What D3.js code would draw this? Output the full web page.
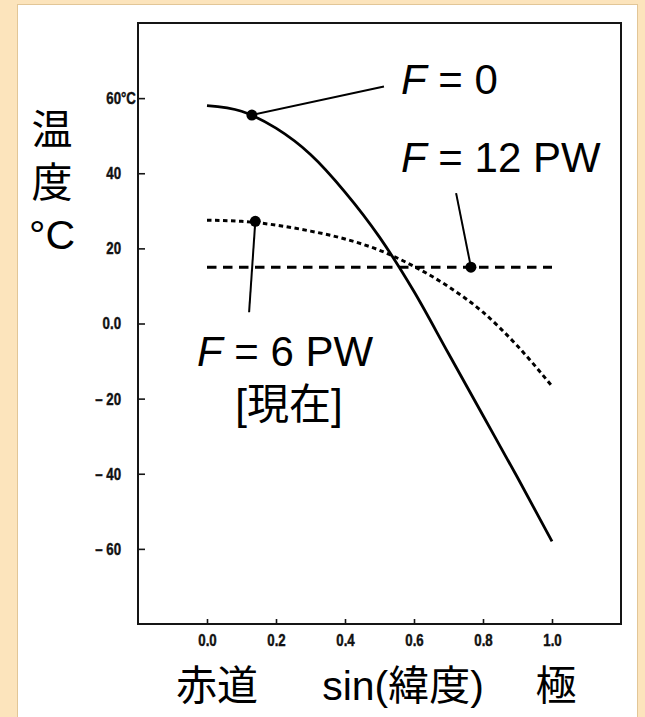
<!DOCTYPE html>
<html>
<head>
<meta charset="utf-8">
<script src="https://cdn.jsdelivr.net/npm/d3@7"></script>
<style>
  html, body { margin: 0; padding: 0; background: #fce4bc; }
  svg { display: block; }
  .big { font-family: "Liberation Sans", Arial, "Noto Sans CJK JP", sans-serif; fill: #000; }
</style>
</head>
<body>
<svg id="chart" width="645" height="717"></svg>
<script>
// sin(latitude) sample positions and temperatures (°C) for three heat-transport cases
const sinLat   = [0, 0.1, 0.2, 0.3, 0.4, 0.5, 0.6, 0.7, 0.8, 0.9, 1.0];
const tempF0   = [58, 56.5, 52, 45, 35, 23, 8.5, -8, -24.5, -41, -58];
const tempF6   = [27.5, 27.2, 26.2, 24.6, 22.5, 19.5, 15.2, 9.8, 3.0, -6.0, -16.7];
const tempF12  = [15, 15, 15, 15, 15, 15, 15, 15, 15, 15, 15];

const xTicks = [0, 0.2, 0.4, 0.6, 0.8, 1.0];
const yTicks = [60, 40, 20, 0, -20, -40, -60];

// labelled points on each curve: [sinLat, temp]
const markF0  = [0.13, 55.5];
const markF6  = [0.14, 27.2];
const markF12 = [0.765, 15];

const svg = d3.select("#chart");

// white page panel
svg.append("rect")
  .attr("x", 17.5).attr("y", 4.5).attr("width", 620).attr("height", 720)
  .attr("fill", "#fff").attr("stroke", "#e2c697").attr("stroke-width", 1);

const x = d3.scaleLinear().domain([-0.2, 1.2]).range([138, 621]);
const y = d3.scaleLinear().domain([-80, 80]).range([624, 23]);

// frame
svg.append("rect")
  .attr("x", x(-0.2)).attr("y", y(80))
  .attr("width", x(1.2) - x(-0.2)).attr("height", y(-80) - y(80))
  .attr("fill", "none").attr("stroke", "#151515").attr("stroke-width", 2);

// condensed, heavy look for the tick numerals
const squeeze = 0.78;
const tickFont = g => g
  .attr("font-family", "Liberation Sans, Arial, sans-serif")
  .attr("font-size", 17)
  .attr("font-weight", "bold");
const fmtY = d => d === 0 ? "0.0" : d < 0 ? "\u2013 " + Math.abs(d) : String(d);

const yAxis = svg.append("g")
  .attr("transform", `translate(${x(-0.2)},0)`)
  .call(d3.axisLeft(y).tickValues(yTicks).tickFormat(fmtY)
        .tickSizeInner(-7).tickSizeOuter(0).tickPadding(17))
  .call(tickFont);
yAxis.select(".domain").remove();
yAxis.selectAll(".tick line").attr("stroke", "#151515").attr("stroke-width", 1.6);
yAxis.selectAll(".tick text")
  .attr("x", -17 / squeeze)
  .attr("transform", `scale(${squeeze},1)`);
// unit suffix on the top tick
yAxis.selectAll(".tick").filter(d => d === 60)
  .append("text")
  .attr("x", -17 / squeeze).attr("dy", "0.32em")
  .attr("transform", `scale(${squeeze},1)`)
  .attr("text-anchor", "start")
  .text("\u00B0C");

const xAxis = svg.append("g")
  .attr("transform", `translate(0,${y(-80)})`)
  .call(d3.axisBottom(x).tickValues(xTicks).tickFormat(d3.format(".1f"))
        .tickSizeInner(-5).tickSizeOuter(0).tickPadding(10))
  .call(tickFont);
xAxis.select(".domain").remove();
xAxis.selectAll(".tick line").attr("stroke", "#151515").attr("stroke-width", 1.6);
xAxis.selectAll(".tick text").attr("transform", `scale(${squeeze},1)`);

svg.selectAll(".tick text")
  .attr("fill", "#111").attr("stroke", "#111").attr("stroke-width", 0.45);

// curves
const line = d3.line().x(d => x(d[0])).y(d => y(d[1])).curve(d3.curveMonotoneX);
const series = [
  { t: tempF0,  dash: null,      w: 2.8 },
  { t: tempF6,  dash: "4.5,3.5", w: 3 },
  { t: tempF12, dash: "9.5,6.5", w: 3 }
];
series.forEach(s => {
  svg.append("path")
    .datum(sinLat.map((v, i) => [v, s.t[i]]))
    .attr("d", line)
    .attr("fill", "none")
    .attr("stroke", "#000")
    .attr("stroke-width", s.w)
    .attr("stroke-dasharray", s.dash);
});

// leader lines from markers to labels
const leaders = [
  [markF0,  [0.513, 63.1]],
  [markF12, [0.722, 34.7]],
  [markF6,  [0.122, 3.0]]
];
leaders.forEach(([a, b]) => {
  svg.append("line")
    .attr("x1", x(a[0])).attr("y1", y(a[1]))
    .attr("x2", x(b[0])).attr("y2", y(b[1]))
    .attr("stroke", "#000").attr("stroke-width", 2);
});
[markF0, markF6, markF12].forEach(m => {
  svg.append("circle").attr("cx", x(m[0])).attr("cy", y(m[1])).attr("r", 5.5).attr("fill", "#000");
});

// annotation labels
function fLabel(tx, ty, rest, anchor) {
  const t = svg.append("text").attr("class", "big")
    .attr("x", tx).attr("y", ty).attr("font-size", 42).attr("text-anchor", anchor);
  t.append("tspan").attr("font-style", "italic").text("F");
  t.append("tspan").text(" = " + rest);
  return t;
}
fLabel(401, 94, "0", "start");
fLabel(401, 172, "12 PW", "start");
fLabel(285, 366, "6 PW", "middle");
svg.append("text").attr("class", "big")
  .attr("x", 289).attr("y", 419).attr("font-size", 42).attr("text-anchor", "middle")
  .text("[現在]");

// y-axis title, stacked vertically
const yTitle = ["温", "度", "\u00B0C"];
const yTitleBase = [144, 197, 249];
yTitle.forEach((s, i) => {
  svg.append("text").attr("class", "big")
    .attr("x", 52).attr("y", yTitleBase[i]).attr("font-size", 41)
    .attr("text-anchor", "middle").text(s);
});

// x-axis title
const xTitle = [["赤道", 217], ["sin(緯度)", 403], ["極", 556]];
xTitle.forEach(([s, cx]) => {
  svg.append("text").attr("class", "big")
    .attr("x", cx).attr("y", 700).attr("font-size", 41)
    .attr("text-anchor", "middle").text(s);
});
</script>
</body>
</html>
